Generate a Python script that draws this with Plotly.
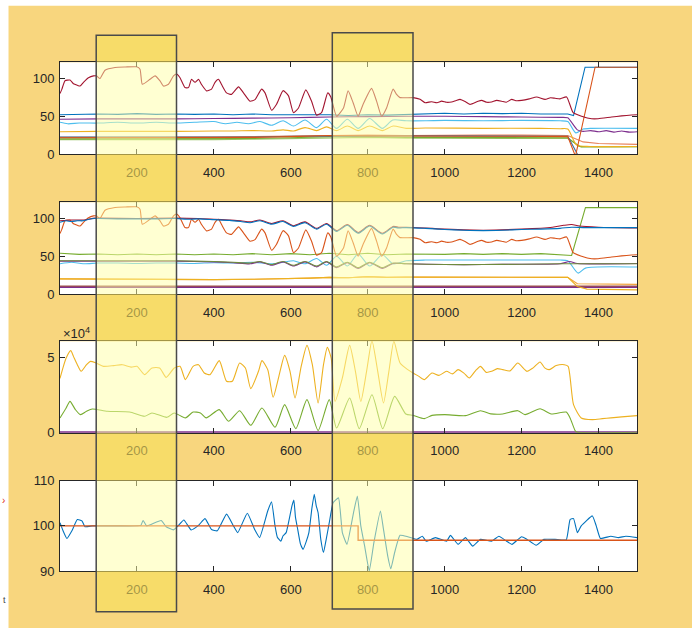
import plotly.graph_objects as go

W, H = 692, 628

BLUE = "#0072BD"; ORANGE = "#D95319"; YELLOW = "#EDB120"; PURPLE = "#7E2F8E"
GREEN = "#77AC30"; LBLUE = "#4DBEEE"; MAROON = "#A2142F"

# ---------------- data: panel 1 ----------------
P1_MAROON_X = [0,5,13,26,35,45,52,61,74,87,95,104,117,143,170,199,208,214,234,247,260,269,282,295,303,312,325,334,342,351,360,368,381,394,403,412,420,433,446,464,477,494,507,524,533,550,563,580,594,607,620,639,654,667,680,696,704,719,737,749,762,775,788,810,823,836,849,866,875,884,918,936,949,966,980,992,1005,1018,1030,1040,1055,1066,1087,1096,1110,1122,1135,1148,1160,1174,1187,1200,1220,1239,1261,1275,1287,1300,1317,1334,1356,1382,1399,1434,1460,1486,1500]
P1_MAROON_Y = [80,86,97,98,93,91,90,95,101,103.5,103.5,100,111,114.7,115.3,115.5,112.4,92.4,99,103.5,97,90,92.4,103.5,106,101,88,88,99,95,99,92,83.6,86,95,99,92,81,79,89,81,70,72,86,81,58,66,84,77,54.7,61,85,70,51.5,54.7,81,75.6,50,61,83.6,68,50,66,87,70,50,61,86,79,74.7,74.7,72.4,68,69.3,68,70,68.5,69,71,72.4,69,65.8,70,71,68.5,69,71,70,68.5,72.4,70.5,71,73,75.6,72.4,74.5,73.8,73,75.6,54.7,50,46.7,46.7,49,50.5,51.6,52]

P1_BLUE_X = [0,50,100,150,200,250,300,350,400,450,500,550,600,650,700,750,800,850,900,950,1000,1050,1100,1150,1200,1250,1300,1320,1335,1365,1500]
P1_BLUE_Y = [52,53,53,52.5,53.5,52.5,53,52.5,53,52,53,52,52,51.5,52,51,52,51.5,52,53,54,53,54,53.5,54,53,53.5,53,51,115,115]

P1_PURPLE_X = [0,100,200,300,400,500,600,700,800,900,1000,1100,1200,1300,1320,1345,1360,1380,1400,1420,1440,1460,1480,1500]
P1_PURPLE_Y = [46,46.5,46.5,46.5,47,47.5,48,49,49.5,50,50,49.5,49,48.5,48,32,30,31,29.5,31,29,30.5,29,29.5]

P1_LBLUE_X = [0,20,50,100,150,200,250,300,350,400,430,460,490,520,550,580,607,637,667,693,719,747,775,805,838,865,900,950,1000,1100,1200,1300,1320,1341,1360,1380,1500]
P1_LBLUE_Y = [42,40,41,41,42,41,42,41,42,43,40,42,40,43,38,44,37,45,35,46,34,46,34,47,34,45,44,44,44.5,44,44.5,44,43,28,33,34,34]

P1_YELLOW_X = [0,100,200,300,400,450,500,550,580,607,637,667,693,719,747,775,805,838,866,900,950,1100,1250,1300,1320,1343,1378,1500]
P1_YELLOW_Y = [29.5,30,30,30,30.5,30.5,31,30.5,32,30.5,35,31,36,31,37,31,37,31,37,34,34.5,34,34,33.5,33,12,10,10]

P1_ORANGE_X = [0,100,200,300,400,500,600,700,800,900,1000,1100,1200,1300,1320,1340,1391,1500]
P1_ORANGE_Y = [21.5,21.5,21,21.5,21.5,22,23,24.5,24,23.5,23.5,23.5,23.5,23.5,23,-3,115,115]

P1_BLUE2_X = [0,100,200,300,400,500,600,700,800,900,1000,1100,1200,1300,1320,1348,1500]
P1_BLUE2_Y = [22.5,22.5,22,22.5,22.5,22.5,23.5,24,24.5,24,24,24,24,24,23.5,-3,-3]

P1_ORANGE2_X = [0,100,200,300,400,500,600,700,800,900,1000,1100,1200,1300,1320,1360,1400,1500]
P1_ORANGE2_Y = [22,22,21.5,22,22.5,23,24,25,25,24.5,25,25,25,25,24.5,16,14,12.8]

P1_GREEN_X = [0,100,200,300,400,500,600,700,800,900,1000,1100,1200,1300,1320,1350,1500]
P1_GREEN_Y = [20,20,19.5,20,20,20.5,21.5,23,23,22,22,22,22,22,21.5,10,10]

P1_GREEN2_X = [0,100,200,300,400,500,600,700,800,900,1000,1100,1200,1300,1320,1355,1500]
P1_GREEN2_Y = [19,19,18.5,19,19,19.5,20.5,22,22,21,21,21,21,21,20.5,9,9.5]

# ---------------- data: panel 2 ----------------
P2_ORANGE_X = P1_MAROON_X
P2_ORANGE_Y = P1_MAROON_Y

P2_BLUE_X = [0,15,30,45,60,75,90,100,150,200,250,300,330,360,400,440,470,494,520,550,580,607,637,667,693,719,747,775,805,838,866,880,900,950,1000,1050,1100,1150,1200,1250,1300,1330,1360,1400,1450,1500]
P2_BLUE_Y = [95,97,96,97,97,99,100,100,99.5,99.5,99.5,100,99,99.5,98.5,97.5,96,94.5,97,92.5,96,89.5,94.5,86,92.5,83,91,80.5,90,79.5,88.5,87.5,88,87,85.5,84.5,84,84.5,85.5,86,87,88.5,88,88,88,88]

P2_MAROON_X = [0,30,60,90,100,200,300,360,400,440,470,494,520,550,580,607,637,667,693,719,747,775,805,838,866,880,900,1000,1100,1200,1280,1310,1330,1350,1400,1500]
P2_MAROON_Y = [97,98,98,100.5,100.5,100,100.5,100,99,98,97,95.5,98,93.5,97,90.5,95.5,87,93.5,84,92,81.5,91,80.5,89.5,88.5,88.5,86,84.5,86,88.5,91,92,90,88.5,87.5]

P2_GREEN_X = [0,50,100,150,200,250,300,350,400,450,500,550,600,650,700,750,800,850,900,950,1000,1050,1100,1150,1200,1250,1300,1330,1366,1500]
P2_GREEN_Y = [54,52.5,53,52,53,52,53,52,53,52,53.5,52,53.5,52,54,52,54,52,53,53,52.5,53.5,52.5,53.5,52.5,53.5,52.5,51,114.5,114.5]

P2_OLIVE_X = [0,100,200,300,400,450,494,520,550,580,607,637,667,693,719,747,775,805,838,866,900,1000,1100,1200,1300,1340,1500]
P2_OLIVE_Y = [44,44,44,44,43,42,41,43,39,43,38,43,37,43,36,42,35,42,35,41,40,39,39,39.5,40,40,40]

P2_PURPLE_X = [0,100,200,300,400,450,494,520,550,580,607,637,667,693,719,747,775,805,838,866,900,1000,1100,1200,1300,1325,1345,1500]
P2_PURPLE_Y = [43.5,43.5,43.5,43.5,42.5,41.5,40,42.5,38,42.5,37,42.5,36,42.5,35,41.5,34,41.5,34,40.5,40,39,39,39.5,40,43,40.5,40.5]

P2_LBLUE_X = [0,30,60,100,150,200,250,300,350,400,450,500,550,580,607,637,667,693,719,747,775,805,838,866,900,950,1000,1100,1200,1300,1320,1347,1366,1500]
P2_LBLUE_Y = [40,42,40,41,41,40.5,41,41,40.5,41.5,41,42,40,42,44,40,47,38,50,37,53,37,52,40,44,45,45,45,45,45,44,27.7,34.3,35.7]

P2_YELLOW_X = [0,100,200,300,400,500,600,650,700,750,800,850,900,1000,1100,1200,1300,1320,1345,1370,1500]
P2_YELLOW_Y = [20,19.5,19,19.5,19,19.5,20,21,22,21.5,23,22,22.5,22.5,22.5,22.5,22.5,22,10,6.5,5.5]

P2_YELLOW2_X = [0,100,200,300,400,500,600,650,700,750,800,850,900,1000,1100,1200,1300,1320,1345,1500]
P2_YELLOW2_Y = [20,19.5,19,19.5,19,19.5,20,21,22,21.5,23,22,22.5,22.5,22.5,22.5,22.5,22,13.5,12.8]

P2_BROWN_X = [0, 1500]
P2_BROWN_Y = [10.2, 10.2]
P2_PURPLE2_X = [0, 1500]
P2_PURPLE2_Y = [8.8, 8.8]

# ---------------- data: panel 3 (units of 10^4) ----------------
P3_YELLOW_X = [0,16,28,35,45,55,69,79,94,113,140,162,185,200,220,239,259,276,297,312,326,346,360,375,390,414,433,448,467,482,496,516,525,540,554,569,584,598,611,627,642,656,671,685,695,705,715,734,753,768,782,797,811,826,841,855,868,884,904,918,932,947,967,985,1005,1020,1035,1050,1064,1080,1093,1108,1122,1137,1151,1170,1190,1214,1230,1248,1260,1272,1290,1311,1321,1335,1355,1384,1410,1432,1460,1500]
P3_YELLOW_Y = [3.6,4.95,5.44,5.06,4.51,4.07,4.51,4.73,4.62,4.4,4.45,4.51,4.35,4.4,3.85,4.29,4.29,3.67,4.29,4.4,3.52,4.4,4.51,3.96,3.85,4.78,3.41,3.41,4.62,4.29,2.92,4.07,4.78,4.18,2.35,3.74,5.13,4.07,2.3,4.4,5.79,4.51,1.97,4.51,5.66,4.95,2.08,3.63,5.79,4.07,2.08,4.07,6.1,4.07,1.97,4.07,6.06,4.62,4.18,3.96,3.75,3.52,3.96,3.8,4.07,3.9,4.18,3.95,3.63,4.1,4.4,4.0,4.07,4.25,4.18,4.1,4.62,4.07,4.3,4.69,4.3,4.18,4.45,4.51,4.4,1.86,0.98,0.87,0.93,0.98,1.05,1.13]

P3_GREEN_X = [0,16,26,40,53,69,84,123,181,220,239,278,297,326,346,365,380,414,438,467,496,525,559,584,613,642,671,700,719,753,778,811,839,870,899,918,947,967,1000,1054,1093,1120,1151,1190,1209,1248,1277,1316,1326,1340,1345,1500]
P3_GREEN_Y = [0.98,1.64,2.08,1.53,1.2,1.42,1.57,1.42,1.37,1.09,1.31,1.02,1.31,0.98,1.37,1.31,0.98,1.53,0.76,1.46,0.49,1.64,0.36,1.86,0.27,2.19,0.14,2.19,0.31,2.3,0.27,2.52,0.27,2.41,1.24,1.15,0.93,1.15,1.2,1.13,1.46,1.25,1.24,1.46,1.2,1.59,1.24,1.37,0.98,0.1,0.03,0.03]

P3_PURPLE_X = [0, 1500]
P3_PURPLE_Y = [0.02, 0.02]

# ---------------- data: panel 4 ----------------
P4_BLUE_X = [0,8,18,31,45,57,65,84,94,150,210,216,225,263,276,295,307,322,341,360,377,394,409,433,451,462,487,506,519,540,550,559,565,574,580,588,603,608,612,618,625,632,640,647,655,661,666,671,678,685,692,700,710,724,734,746,763,773,782,792,804,816,833,841,852,860,870,884,904,928,942,952,976,1005,1015,1035,1054,1073,1093,1122,1141,1161,1175,1200,1214,1238,1258,1287,1316,1326,1335,1345,1355,1384,1394,1405,1432,1452,1471,1500]
P4_BLUE_Y = [100.7,98.9,97.2,98.9,101.4,101.1,99.8,100,100,100,100.1,101.2,100,101.2,99.8,99.1,100,101.3,99.1,100.1,101.6,99.2,98.9,102.6,100,98.5,102.8,99.2,97.4,103.3,105.3,100,97.5,96.6,97.8,98.5,104.4,105.7,102,99.2,96,94.8,96.5,98.5,104,107,104.5,102.9,97,94.1,97,100.7,105.1,106.2,98.5,95.9,102.9,106.6,100,95.5,90,96.3,103.3,99.2,93.3,90.5,94.1,97.9,97.6,97,97.7,96.6,97.4,96.6,97.9,95.9,97.4,95.5,97,96.6,97.7,96.6,95.9,97.6,97,95.7,97,97,96.9,101.4,101.6,98.5,100,102.2,100,97.2,97.7,97.4,97.7,97.4]

P4_SP_X = [0, 775, 775, 1500]
P4_SP_Y = [100, 100, 96.8, 96.8]

# ---------------- tick labels ----------------
X_TICKS = [200, 400, 600, 800, 1000, 1200, 1400]
Y_TICKS_12 = [0, 50, 100]
Y_TICKS_3 = [0, 5]
Y_TICKS_4 = [90, 100, 110]

# ---------------- layout geometry (pixels) ----------------
PLOT_L, PLOT_R = 60, 637
PANELS = [(62.3, 154), (202.3, 294), (341.3, 432.7), (480.7, 571)]
YRANGES = [[0, 121.5], [0, 121.5], [0, 6.06], [90, 110]]

def px_x(p):
    return p / W

def px_y(p):
    return 1 - p / H

fig = go.Figure()

def add(panel, xs, ys, color, width=1.1, smooth=0.0):
    line = dict(color=color, width=width)
    if smooth > 0:
        line.update(shape="spline", smoothing=smooth)
    fig.add_trace(go.Scatter(x=xs, y=ys, mode="lines", line=line,
                             xaxis="x" + ("" if panel == 1 else str(panel)),
                             yaxis="y" + ("" if panel == 1 else str(panel)),
                             showlegend=False, hoverinfo="skip"))

# panel 1
add(1, P1_GREEN2_X, P1_GREEN2_Y, "#9CC46A")
add(1, P1_GREEN_X, P1_GREEN_Y, GREEN)
add(1, P1_ORANGE2_X, P1_ORANGE2_Y, "#E8825A")
add(1, P1_BLUE2_X, P1_BLUE2_Y, "#3D6E9E")
add(1, P1_YELLOW_X, P1_YELLOW_Y, YELLOW, smooth=0.7)
add(1, P1_LBLUE_X, P1_LBLUE_Y, LBLUE, smooth=0.7)
add(1, P1_PURPLE_X, P1_PURPLE_Y, PURPLE, smooth=0.5)
add(1, P1_BLUE_X, P1_BLUE_Y, BLUE)
add(1, P1_ORANGE_X, P1_ORANGE_Y, ORANGE)
add(1, P1_MAROON_X, P1_MAROON_Y, MAROON, smooth=0.5)
# panel 2
add(2, P2_BROWN_X, P2_BROWN_Y, "#A0524A", 1.6)
add(2, P2_PURPLE2_X, P2_PURPLE2_Y, PURPLE, 1.4)
add(2, P2_YELLOW2_X, P2_YELLOW2_Y, "#F2A33A")
add(2, P2_YELLOW_X, P2_YELLOW_Y, YELLOW)
add(2, P2_LBLUE_X, P2_LBLUE_Y, LBLUE, smooth=0.7)
add(2, P2_PURPLE_X, P2_PURPLE_Y, PURPLE, smooth=0.7)
add(2, P2_OLIVE_X, P2_OLIVE_Y, "#6E8B3D", smooth=0.7)
add(2, P2_GREEN_X, P2_GREEN_Y, GREEN)
add(2, P2_ORANGE_X, P2_ORANGE_Y, ORANGE, smooth=0.5)
add(2, P2_MAROON_X, P2_MAROON_Y, MAROON, smooth=0.7)
add(2, P2_BLUE_X, P2_BLUE_Y, BLUE, smooth=0.7)
# panel 3
add(3, P3_PURPLE_X, P3_PURPLE_Y, PURPLE, 2.5)
add(3, P3_GREEN_X, P3_GREEN_Y, GREEN, smooth=0.6)
add(3, P3_YELLOW_X, P3_YELLOW_Y, YELLOW, smooth=0.6)
# panel 4
add(4, P4_BLUE_X, P4_BLUE_Y, BLUE, smooth=0.4)
add(4, P4_SP_X, P4_SP_Y, ORANGE, 1.4)

FONT = dict(family="Liberation Sans Narrow, Arial Narrow, Liberation Sans, Arial", size=13, color="#262626")

axis_common = dict(showline=True, linecolor="#262626", linewidth=1, mirror="ticks",
                   ticks="inside", ticklen=5, tickcolor="#262626", tickwidth=1,
                   showgrid=False, zeroline=False, tickfont=FONT, fixedrange=True)

layout = dict(width=W, height=H, margin=dict(l=0, r=0, t=0, b=0, autoexpand=False), autosize=False,
              paper_bgcolor="#F8D67E", plot_bgcolor="white")

for i, (top, bot) in enumerate(PANELS):
    n = "" if i == 0 else str(i + 1)
    xa = dict(axis_common, domain=[px_x(PLOT_L), px_x(PLOT_R)], range=[0, 1500],
              tickmode="array", tickvals=X_TICKS, anchor="y" + n, ticklabelstandoff=6)
    ya = dict(axis_common, domain=[px_y(bot), px_y(top)], range=YRANGES[i],
              anchor="x" + n, tickmode="array", ticklabelstandoff=2)
    if i < 2:
        ya["tickvals"] = Y_TICKS_12
    elif i == 2:
        ya["tickvals"] = Y_TICKS_3
    else:
        ya["tickvals"] = Y_TICKS_4
    layout["xaxis" + n] = xa
    layout["yaxis" + n] = ya

fig.update_layout(**layout)

shapes = []
shapes.append(dict(type="rect", xref="paper", yref="paper", x0=0, x1=1, y0=px_y(5.7), y1=1,
                   fillcolor="white", line=dict(width=0), layer="below"))
shapes.append(dict(type="rect", xref="paper", yref="paper", x0=0, x1=px_x(8.5), y0=0, y1=1,
                   fillcolor="white", line=dict(width=0), layer="below"))

OUTER = "rgba(246,224,92,0.6)"
INNER = "rgba(255,255,165,0.5)"
BOXES = [(96.2, 176.5, 35.3, 611.7), (332.3, 413, 32.7, 609)]
for (x0, x1, y0, y1) in BOXES:
    edges = [y0]
    for (t, b) in PANELS:
        edges += [t, b]
    edges.append(y1)
    for k in range(0, len(edges), 2):
        shapes.append(dict(type="rect", xref="paper", yref="paper", x0=px_x(x0), x1=px_x(x1),
                           y0=px_y(edges[k + 1]), y1=px_y(edges[k]), fillcolor=OUTER,
                           line=dict(width=0), layer="above"))
    for (t, b) in PANELS:
        shapes.append(dict(type="rect", xref="paper", yref="paper", x0=px_x(x0), x1=px_x(x1),
                           y0=px_y(b), y1=px_y(t), fillcolor=INNER,
                           line=dict(width=0), layer="above"))
    shapes.append(dict(type="rect", xref="paper", yref="paper", x0=px_x(x0), x1=px_x(x1),
                       y0=px_y(y1), y1=px_y(y0), fillcolor="rgba(0,0,0,0)",
                       line=dict(color="#4a4a4a", width=1.5), layer="above"))

annotations = [
    dict(xref="paper", yref="paper", x=px_x(61), y=px_y(333), xanchor="left", yanchor="middle",
         text="×10<sup>4</sup>", showarrow=False, font=dict(FONT, size=13)),
    dict(xref="paper", yref="paper", x=px_x(1), y=px_y(600), xanchor="left", yanchor="middle",
         text="t", showarrow=False, font=dict(family="Liberation Sans", size=9, color="#444")),
    dict(xref="paper", yref="paper", x=px_x(0), y=px_y(500), xanchor="left", yanchor="middle",
         text="›", showarrow=False, font=dict(family="Liberation Sans", size=10, color="#E03020")),
]
fig.update_layout(shapes=shapes, annotations=annotations)

fig.write_html("out.html", config={"responsive": False, "displayModeBar": False},
               post_script="document.body.style.margin='0';document.body.style.overflow='hidden';")
